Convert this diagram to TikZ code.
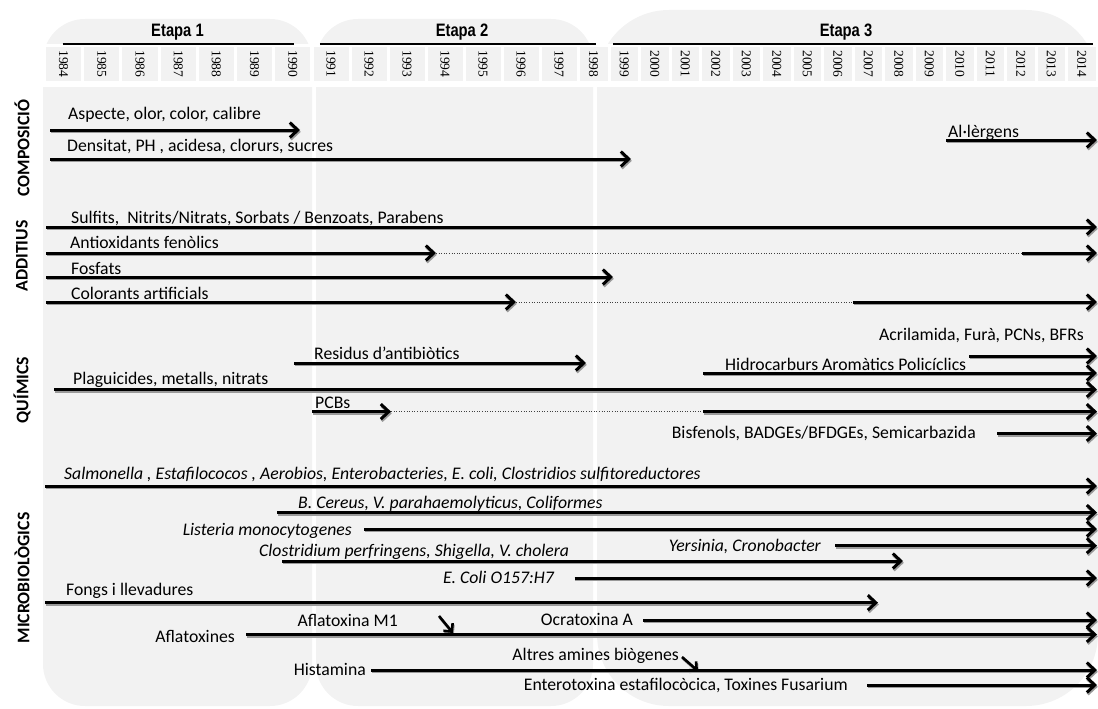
\documentclass[tikz,border=0pt]{standalone}
\usepackage{fontspec}
\setmainfont{Carlito}
\newfontfamily\etapafont[FakeStretch=0.82]{Liberation Sans}
\newfontfamily\yearfont{Liberation Serif}
\usepackage{tikz}
\usetikzlibrary{arrows.meta}
\definecolor{panelbg}{HTML}{F2F2F2}
\definecolor{shadowgray}{HTML}{9A9A9A}
% timeline bar with its grey shadow: start x, end x, row y
\newcommand{\tlbar}[3]{%
  \draw[barshadow] ({#1+0.8},{#3+1.8}) -- ({#2+0.8},{#3+1.8});
  \draw[bar] (#1,#3) -- (#2,#3);}

\begin{document}
\begin{tikzpicture}[x=1pt, y=-1pt,
    every node/.style={font=\fontsize{17.7}{20}\selectfont, inner sep=0pt},
    panel/.style={fill=panelbg},
    yearcell/.style={fill=panelbg, draw=white, line width=3pt},
    yearlab/.style={font=\yearfont\fontsize{13.5}{15}\selectfont, rotate=-90},
    etapa/.style={font=\etapafont\bfseries\fontsize{18}{20}\selectfont},
    etapaline/.style={line width=1.2pt},
    cat/.style={font=\bfseries\fontsize{17.7}{20}\selectfont, rotate=90},
    bar/.style={line width=3pt, -{Straight Barb[length=8pt,width=15pt]}},
    barshadow/.style={bar, draw=shadowgray},
    pointer/.style={line width=2.6pt, -{Straight Barb[length=6pt,width=12pt]}},
    pointershadow/.style={pointer, draw=shadowgray},
    gap/.style={dotted, line width=0.6pt, black!75},
    lab/.style={anchor=base west},
    rlab/.style={anchor=base east},
    ilab/.style={anchor=base west, font=\itshape\fontsize{17.7}{20}\selectfont},
    irlab/.style={anchor=base east, font=\itshape\fontsize{17.7}{20}\selectfont}
]
\useasboundingbox (0,0) rectangle (1098,709);

% Stage panels
\fill[panel, rounded corners=42pt] (43,19) rectangle (312,706);
\fill[panel, rounded corners=42pt] (316,19) rectangle (593,706);
\fill[panel, rounded corners=72pt] (597,10) rectangle (1098,706);
\fill[white] (40,82.5) rectangle (1098,87);

% Year cells
\foreach \yr [count=\i from 0] in {1984,...,1990}{
  \draw[yearcell] ({44.5+38.2*\i},46) rectangle ++(38.2,36.5);
  \node[yearlab] (y\yr) at ({63.6+38.2*\i},64) {\yr};
}
\foreach \yr [count=\i from 0] in {1991,...,1997}{
  \draw[yearcell] ({312+38*\i},46) rectangle ++(38,36.5);
  \node[yearlab] (y\yr) at ({331+38*\i},64) {\yr};
}
\draw[yearcell] (578,46) rectangle (609,82.5);
\node[yearlab] (y1998) at (593.5,64) {1998};
\foreach \yr [count=\i from 0] in {1999,...,2014}{
  \draw[yearcell] ({609+30.5*\i},46) rectangle ++(30.5,36.5);
  \node[yearlab] (y\yr) at ({624.25+30.5*\i},64) {\yr};
}

% Stage titles
\node[etapa] (etapa1) at (177.5,32) {Etapa 1};
\draw[etapaline] (62.5,44) -- (294,44);
\node[etapa] (etapa2) at (462,32) {Etapa 2};
\draw[etapaline] (320,44) -- (596,44);
\node[etapa] (etapa3) at (846,32) {Etapa 3};
\draw[etapaline] (613,44) -- (1093,44);

% Categories
\node[cat] (compo) at (22,148) {COMPOSICIÓ};
\node[cat] (additius) at (22,256) {ADDITIUS};
\node[cat] (quimics) at (22,390) {QUÍMICS};
\node[cat] (micro) at (22,578) {MICROBIOLÒGICS};

% Composicio
\node[lab] (aspecte) at (68,119) {Aspecte, olor, color, calibre};
\tlbar{50}{300}{130}
\node[lab] (densitat) at (67,151) {Densitat, PH , acidesa, clorurs, sucres};
\tlbar{50}{631}{159}
\node[lab] (alergens) at (948,137) {Al·lèrgens};
\tlbar{946}{1097}{140}

% Additius
\node[lab] (sulfits) at (71,223.5) {Sulfits,\ \ Nitrits/Nitrats, Sorbats / Benzoats, Parabens};
\tlbar{46}{1097}{227}
\node[lab] (antiox) at (70,248.5) {Antioxidants fenòlics};
\draw[gap] (436,253) -- (1022,253);
\tlbar{46}{436}{253}
\tlbar{1022}{1097}{253}
\node[lab] (fosfats) at (71,274) {Fosfats};
\tlbar{46}{613}{277}
\node[lab] (colorants) at (71,299) {Colorants artificials};
\draw[gap] (516,302) -- (853,302);
\tlbar{46}{516}{302}
\tlbar{853}{1097}{302}

% Quimics
\node[rlab] (acrilamida) at (1084,340) {Acrilamida, Furà, PCNs, BFRs};
\tlbar{969}{1097}{356}
\node[lab] (residus) at (314,359) {Residus d’antibiòtics};
\tlbar{294}{586}{363}
\node[lab] (hidrocarburs) at (725,370) {Hidrocarburs Aromàtics Policíclics};
\tlbar{703}{1097}{373}
\node[lab] (plaguicides) at (73,384) {Plaguicides, metalls, nitrats};
\tlbar{54}{1097}{389.5}
\node[lab] (pcbs) at (315,408) {PCBs};
\draw[gap] (391,411.6) -- (703,411.6);
\tlbar{312}{391}{411.6}
\tlbar{703}{1097}{411.6}
\node[rlab] (bisfenols) at (976,438) {Bisfenols, BADGEs/BFDGEs, Semicarbazida};
\tlbar{997}{1097}{433.5}

% Microbiologics
\node[ilab] (salmonella) at (64,479) {Salmonella , Estafilococos , Aerobios, Enterobacteries, E. coli, Clostridios sulfitoreductores};
\tlbar{45}{1097}{486}
\node[ilab] (bcereus) at (298,508.5) {B. Cereus, V. parahaemolyticus, Coliformes};
\tlbar{277}{1097}{512.5}
\node[irlab] (listeria) at (352,535) {Listeria monocytogenes};
\tlbar{364}{1097}{529}
\node[irlab] (yersinia) at (821,551) {Yersinia, Cronobacter};
\tlbar{835}{1097}{545.7}
\node[ilab] (clostridium) at (259,556) {Clostridium perfringens, Shigella, V. cholera};
\tlbar{282}{903}{561}
\node[irlab] (ecoli) at (554,583) {E. Coli O157:H7};
\tlbar{574.5}{1097}{578}
\node[lab] (fongs) at (66,595) {Fongs i llevadures};
\tlbar{45}{878}{602.7}
\node[rlab] (ocratoxina) at (633,625.5) {Ocratoxina A};
\tlbar{643}{1097}{620}
\node[rlab] (aflaM1) at (398,626) {Aflatoxina M1};
\draw[pointershadow] (439.8,617.5) -- (453.8,634.5);
\draw[pointer] (439,616) -- (453,633);
\node[rlab] (aflatoxines) at (235,642) {Aflatoxines};
\tlbar{246}{1097}{634.5}
\node[rlab] (amines) at (679,660) {Altres amines biògenes};
\draw[pointershadow] (682.8,658.5) -- (698.8,672.5);
\draw[pointer] (682,657) -- (698,671);
\node[rlab] (histamina) at (366,675) {Histamina};
\tlbar{371}{1097}{670}
\node[rlab] (enterotoxina) at (848,690) {Enterotoxina estafilocòcica, Toxines Fusarium};
\tlbar{867}{1097}{685}
\end{tikzpicture}
\end{document}
